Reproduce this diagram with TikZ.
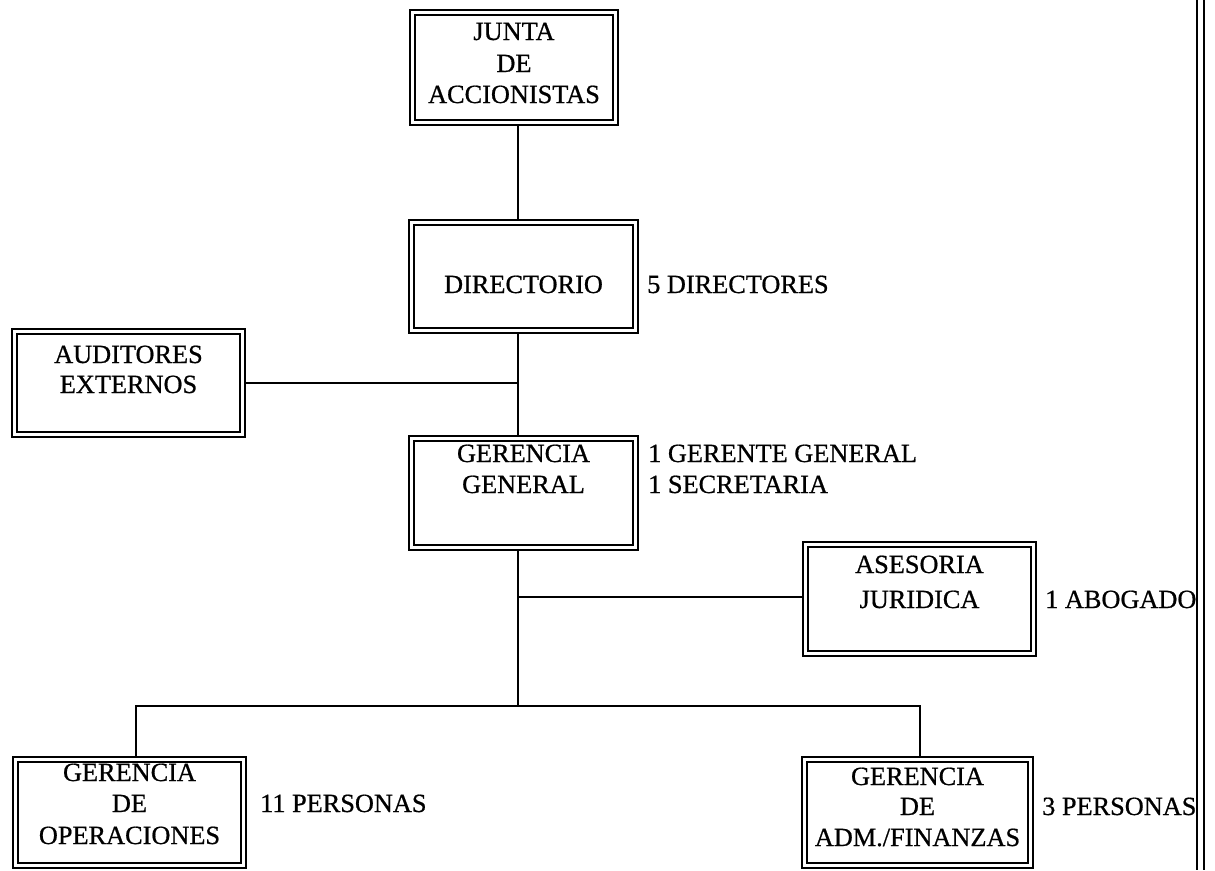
\documentclass[tikz,border=0pt]{standalone}
\usepackage{fontspec}
\setmainfont{Liberation Serif}
\newfontfamily\scanfont{Liberation Serif}[FakeBold=0.7]
\usetikzlibrary{calc}
\tikzset{
  orgbox/.style={draw, line width=2.8pt, inner sep=0pt, outer sep=0pt},
  innerline/.style={line width=1.3pt},
  lbl/.style={font=\scanfont\fontsize{26.3}{31}\selectfont, inner sep=0pt, anchor=base},
  side/.style={lbl, anchor=base west},
  conn/.style={line width=2pt},
  edge/.style={line width=2.4pt},
}
\newcommand{\mkbox}[5]{%
  \node[orgbox, minimum width={(#4-#2)*1pt}, minimum height={(#5-#3)*1pt}] (#1) at ({(#2+#4)/2},{(#3+#5)/2}) {};
  \draw[innerline] ($(#1.south west)+(5,-5)$) rectangle ($(#1.north east)+(-5,5)$);
}
\begin{document}
\begin{tikzpicture}[x=1pt,y=-1pt]
\useasboundingbox (0,0) rectangle (1215,870);
% boxes
\mkbox{junta}{410}{10}{618}{125}
\mkbox{dir}{409}{220}{638}{333}
\mkbox{aud}{12}{329}{245}{437}
\mkbox{gg}{409}{436}{638}{550}
\mkbox{ase}{803}{542}{1036}{656}
\mkbox{ops}{13}{757}{246}{868}
\mkbox{adm}{802}{757}{1033}{868}
% texts
\node[lbl] (j1) at (514,40) {JUNTA};
\node[lbl] (j2) at (514,72) {DE};
\node[lbl] (j3) at (514,103) {ACCIONISTAS};
\node[lbl] (d1) at (523.5,293) {DIRECTORIO};
\node[side] (d2) at (647,293) {5 DIRECTORES};
\node[lbl] (a1) at (128.5,363) {AUDITORES};
\node[lbl] (a2) at (128.5,393) {EXTERNOS};
\node[lbl] (g1) at (523.5,462) {GERENCIA};
\node[lbl] (g2) at (523.5,493) {GENERAL};
\node[side] (g3) at (648,462) {1 GERENTE GENERAL};
\node[side] (g4) at (648,493) {1 SECRETARIA};
\node[lbl] (s1) at (919.5,573) {ASESORIA};
\node[lbl] (s2) at (919.5,608) {JURIDICA};
\node[side] (s3) at (1045,608) {1 ABOGADO};
\node[lbl] (o1) at (129.5,781) {GERENCIA};
\node[lbl] (o2) at (129.5,812) {DE};
\node[lbl] (o3) at (129.5,844) {OPERACIONES};
\node[side] (o4) at (260,812) {11 PERSONAS};
\node[lbl] (f1) at (917.5,785) {GERENCIA};
\node[lbl] (f2) at (917.5,815) {DE};
\node[lbl] (f3) at (917.5,846) {ADM./FINANZAS};
\node[side] (f4) at (1042,815) {3 PERSONAS};
% connectors
\coordinate (tx) at (518,0);
\coordinate (ja) at (518,597);
\coordinate (bar) at (518,706);
\coordinate (cl) at (136,706);
\coordinate (cr) at (920,706);
\draw[conn] (junta.south -| tx) -- (dir.north -| tx);
\draw[conn] (dir.south -| tx) -- (gg.north -| tx);
\draw[conn] (aud.east) -- (aud.east -| tx);
\draw[conn] (gg.south -| tx) -- (bar);
\draw[conn] (ja) -- (ja -| ase.west);
\draw[conn] (ops.north -| cl) -- (cl) -- (cr) -- (adm.north -| cr);
% right edge double line
\coordinate (e1t) at (1197,0);
\coordinate (e1b) at (1197,870);
\coordinate (e2t) at (1204,0);
\coordinate (e2b) at (1204,870);
\draw[edge] (e1t) -- (e1b);
\draw[edge] (e2t) -- (e2b);
\end{tikzpicture}
\end{document}
